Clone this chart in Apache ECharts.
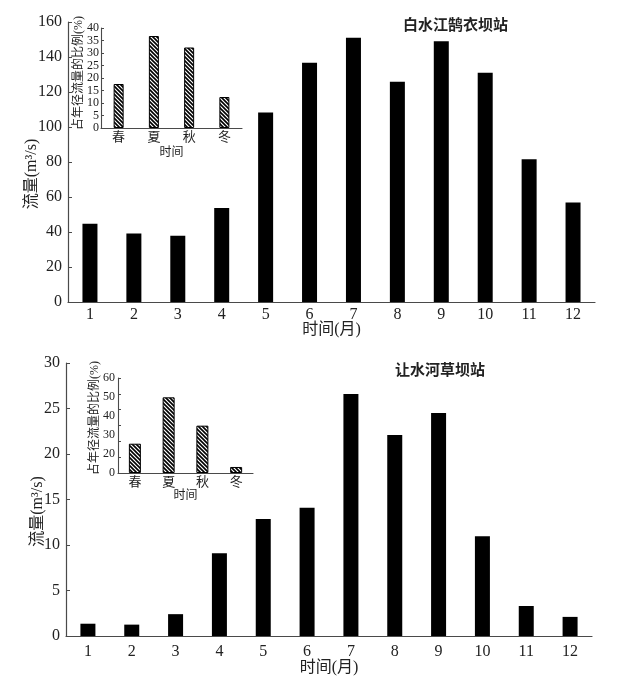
<!DOCTYPE html>
<html><head><meta charset="utf-8">
<script src="https://cdn.jsdelivr.net/npm/echarts@6/dist/echarts.min.js"></script>
<style>html,body{margin:0;padding:0;background:#fff}#c{width:617px;height:683px}</style>
</head><body><div id="c"></div>
<script>
// ---- data ----
const months = ['1','2','3','4','5','6','7','8','9','10','11','12'];
const seasons = ['春','夏','秋','冬'];
const flowBSJ = [44.7, 39.2, 37.8, 53.7, 108.3, 136.7, 151.0, 125.9, 149.0, 131.0, 81.6, 56.9];
const ratioBSJ = [17.6, 36.8, 32.2, 12.4];
const flowRSH = [1.35, 1.25, 2.4, 9.1, 12.85, 14.1, 26.6, 22.1, 24.5, 10.95, 3.3, 2.1];
const ratioRSH = [18.5, 47.8, 29.9, 3.8];
const ratioRSHTickLabels = ['0','20','30','40','50','60'];
const titleBSJ = '白水江鹄衣坝站';
const titleRSH = '让水河草坝站';

// ---- styles ----
const SERIF = "'Liberation Serif','Noto Sans CJK SC',serif";
const AX = '#4a4a4a';
const TXT = '#222';

function hatch(){
  const s = 4, c = document.createElement('canvas');
  c.width = s; c.height = s;
  const g = c.getContext('2d');
  g.fillStyle = '#fff'; g.fillRect(0,0,s,s);
  g.strokeStyle = '#000'; g.lineWidth = 1.6;
  g.beginPath();
  g.moveTo(-1,-1); g.lineTo(s+1,s+1);
  g.moveTo(-1,s-1); g.lineTo(1,s+1);
  g.moveTo(s-1,-1); g.lineTo(s+1,1);
  g.stroke();
  return c;
}
const pattern = {image: hatch(), repeat: 'repeat'};

function mainX(gi, margin, gap){
  return {type:'category', gridIndex:gi, data:months, position:'bottom',
    axisLine:{lineStyle:{color:AX,width:1.2}},
    axisTick:{inside:true,length:3,lineStyle:{color:AX}},
    axisLabel:{color:TXT,fontSize:16,fontFamily:SERIF,margin:margin},
    name:'时间(月)', nameLocation:'middle', nameGap:gap, nameMoveOverlap:false,
    nameTextStyle:{color:TXT,fontSize:16,fontFamily:SERIF}};
}
function mainY(gi, max, interval, gap){
  return {type:'value', gridIndex:gi, position:'left', min:0, max:max, interval:interval,
    splitLine:{show:false},
    axisLine:{show:true,lineStyle:{color:AX,width:1.2}},
    axisTick:{show:true,inside:true,length:4,lineStyle:{color:AX}},
    axisLabel:{color:TXT,fontSize:16,fontFamily:SERIF,margin:6},
    name:'流量(m³/s)', nameLocation:'middle', nameGap:gap, nameMoveOverlap:false,
    nameTextStyle:{color:TXT,fontSize:16,fontFamily:SERIF,padding:[0,24,0,0]}};
}
function insetX(gi, gap){
  return {type:'category', gridIndex:gi, data:seasons, position:'bottom',
    axisLine:{lineStyle:{color:AX,width:1.1}},
    axisTick:{inside:true,length:2,lineStyle:{color:AX}},
    axisLabel:{color:TXT,fontSize:13,fontFamily:SERIF,margin:3},
    name:'时间', nameLocation:'middle', nameGap:gap, nameMoveOverlap:false,
    nameTextStyle:{color:TXT,fontSize:12,fontFamily:SERIF}};
}
function insetY(gi, max, interval, gap, pad, showLabel){
  return {type:'value', gridIndex:gi, position:'left', min:0, max:max, interval:interval,
    splitLine:{show:false},
    axisLine:{show:true,lineStyle:{color:AX,width:1.1}},
    axisTick:{show:true,inside:true,length:3,lineStyle:{color:AX}},
    axisLabel:{show:showLabel,color:TXT,fontSize:12,fontFamily:SERIF,margin:2},
    name:'占年径流量的比例(%)', nameLocation:'middle', nameGap:gap, nameMoveOverlap:false,
    nameTextStyle:{color:TXT,fontSize:12,fontFamily:SERIF,padding:[0,0,0,pad]}};
}

const option = {
  backgroundColor:'#fff',
  animation:false,
  title:[
    {text:titleBSJ, left:398, top:12, textStyle:{fontSize:15,fontWeight:'bold',color:TXT,fontFamily:"'Noto Sans CJK SC',sans-serif"}},
    {text:titleRSH, left:390, top:357, textStyle:{fontSize:15,fontWeight:'bold',color:TXT,fontFamily:"'Noto Sans CJK SC',sans-serif"}}
  ],
  grid:[
    {left:68, top:22, width:527, height:280},
    {left:101, top:28, width:141, height:100},
    {left:66, top:363, width:526, height:273},
    {left:118, top:378, width:135, height:95}
  ],
  xAxis:[
    mainX(0, 5, 20),
    insetX(1, 19),
    mainX(2, 8, 24),
    insetX(3, 17)
  ],
  yAxis:[
    mainY(0, 160, 20, 28),
    insetY(1, 40, 5, 16, 10, true),
    mainY(2, 30, 5, 20),
    insetY(3, 60, 10, 17, 15, false),
    {type:'value', gridIndex:3, position:'left', offset:0, min:0, max:5, interval:1,
      splitLine:{show:false}, axisLine:{show:false}, axisTick:{show:false},
      axisLabel:{color:TXT,fontSize:12,fontFamily:SERIF,margin:3,
        formatter:function(v){return ratioRSHTickLabels[Math.round(v)];}}}
  ],
  series:[
    {type:'bar', xAxisIndex:0, yAxisIndex:0, data:flowBSJ, barWidth:15, itemStyle:{color:'#000'}},
    {type:'bar', xAxisIndex:1, yAxisIndex:1, data:ratioBSJ, barWidth:10, itemStyle:{color:pattern,borderColor:'#000',borderWidth:1}},
    {type:'bar', xAxisIndex:2, yAxisIndex:2, data:flowRSH, barWidth:15, itemStyle:{color:'#000'}},
    {type:'bar', xAxisIndex:3, yAxisIndex:3, data:ratioRSH, barWidth:12, itemStyle:{color:pattern,borderColor:'#000',borderWidth:1}}
  ]
};
const chart = echarts.init(document.getElementById('c'), null, {renderer:'canvas'});
chart.setOption(option);
</script>
</body></html>
